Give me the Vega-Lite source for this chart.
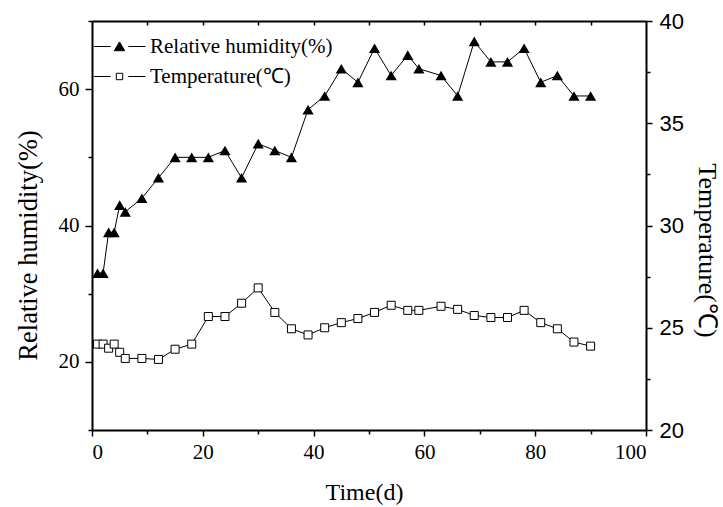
{
  "$schema": "https://vega.github.io/schema/vega-lite/v6.json",
  "width": 554,
  "height": 409,
  "autosize": {"type": "none"},
  "padding": {"left": 92, "top": 21, "right": 77, "bottom": 77},
  "background": "white",
  "data": {"values": [
    {"day": 1, "series": "Relative humidity(%)", "value": 33},
    {"day": 2, "series": "Relative humidity(%)", "value": 33},
    {"day": 3, "series": "Relative humidity(%)", "value": 39},
    {"day": 4, "series": "Relative humidity(%)", "value": 39},
    {"day": 5, "series": "Relative humidity(%)", "value": 43},
    {"day": 6, "series": "Relative humidity(%)", "value": 42},
    {"day": 9, "series": "Relative humidity(%)", "value": 44},
    {"day": 12, "series": "Relative humidity(%)", "value": 47},
    {"day": 15, "series": "Relative humidity(%)", "value": 50},
    {"day": 18, "series": "Relative humidity(%)", "value": 50},
    {"day": 21, "series": "Relative humidity(%)", "value": 50},
    {"day": 24, "series": "Relative humidity(%)", "value": 51},
    {"day": 27, "series": "Relative humidity(%)", "value": 47},
    {"day": 30, "series": "Relative humidity(%)", "value": 52},
    {"day": 33, "series": "Relative humidity(%)", "value": 51},
    {"day": 36, "series": "Relative humidity(%)", "value": 50},
    {"day": 39, "series": "Relative humidity(%)", "value": 57},
    {"day": 42, "series": "Relative humidity(%)", "value": 59},
    {"day": 45, "series": "Relative humidity(%)", "value": 63},
    {"day": 48, "series": "Relative humidity(%)", "value": 61},
    {"day": 51, "series": "Relative humidity(%)", "value": 66},
    {"day": 54, "series": "Relative humidity(%)", "value": 62},
    {"day": 57, "series": "Relative humidity(%)", "value": 65},
    {"day": 59, "series": "Relative humidity(%)", "value": 63},
    {"day": 63, "series": "Relative humidity(%)", "value": 62},
    {"day": 66, "series": "Relative humidity(%)", "value": 59},
    {"day": 69, "series": "Relative humidity(%)", "value": 67},
    {"day": 72, "series": "Relative humidity(%)", "value": 64},
    {"day": 75, "series": "Relative humidity(%)", "value": 64},
    {"day": 78, "series": "Relative humidity(%)", "value": 66},
    {"day": 81, "series": "Relative humidity(%)", "value": 61},
    {"day": 84, "series": "Relative humidity(%)", "value": 62},
    {"day": 87, "series": "Relative humidity(%)", "value": 59},
    {"day": 90, "series": "Relative humidity(%)", "value": 59},
    {"day": 1, "series": "Temperature(℃)", "value": 24.2},
    {"day": 2, "series": "Temperature(℃)", "value": 24.2},
    {"day": 3, "series": "Temperature(℃)", "value": 24.0},
    {"day": 4, "series": "Temperature(℃)", "value": 24.2},
    {"day": 5, "series": "Temperature(℃)", "value": 23.8},
    {"day": 6, "series": "Temperature(℃)", "value": 23.5},
    {"day": 9, "series": "Temperature(℃)", "value": 23.5},
    {"day": 12, "series": "Temperature(℃)", "value": 23.45},
    {"day": 15, "series": "Temperature(℃)", "value": 23.95},
    {"day": 18, "series": "Temperature(℃)", "value": 24.2},
    {"day": 21, "series": "Temperature(℃)", "value": 25.55},
    {"day": 24, "series": "Temperature(℃)", "value": 25.55},
    {"day": 27, "series": "Temperature(℃)", "value": 26.2},
    {"day": 30, "series": "Temperature(℃)", "value": 26.95},
    {"day": 33, "series": "Temperature(℃)", "value": 25.75},
    {"day": 36, "series": "Temperature(℃)", "value": 24.95},
    {"day": 39, "series": "Temperature(℃)", "value": 24.65},
    {"day": 42, "series": "Temperature(℃)", "value": 25.0},
    {"day": 45, "series": "Temperature(℃)", "value": 25.25},
    {"day": 48, "series": "Temperature(℃)", "value": 25.45},
    {"day": 51, "series": "Temperature(℃)", "value": 25.75},
    {"day": 54, "series": "Temperature(℃)", "value": 26.1},
    {"day": 57, "series": "Temperature(℃)", "value": 25.85},
    {"day": 59, "series": "Temperature(℃)", "value": 25.85},
    {"day": 63, "series": "Temperature(℃)", "value": 26.05},
    {"day": 66, "series": "Temperature(℃)", "value": 25.9},
    {"day": 69, "series": "Temperature(℃)", "value": 25.6},
    {"day": 72, "series": "Temperature(℃)", "value": 25.5},
    {"day": 75, "series": "Temperature(℃)", "value": 25.5},
    {"day": 78, "series": "Temperature(℃)", "value": 25.85},
    {"day": 81, "series": "Temperature(℃)", "value": 25.25},
    {"day": 84, "series": "Temperature(℃)", "value": 24.95},
    {"day": 87, "series": "Temperature(℃)", "value": 24.3},
    {"day": 90, "series": "Temperature(℃)", "value": 24.1}
  ]},
  "layer": [
    {
      "mark": {"type": "point", "opacity": 0, "strokeWidth": 1},
      "encoding": {
        "x": {"field": "day", "type": "quantitative", "scale": {"domain": [0, 100], "nice": false, "zero": false}, "axis": null},
        "y": {"field": "value", "type": "quantitative", "scale": {"domain": [0, 100], "nice": false, "zero": false}, "axis": null},
        "shape": {"field": "series", "type": "nominal",
          "scale": {"domain": ["Relative humidity(%)", "Temperature(℃)"],
                    "range": ["M-6.4,0H-2.2M2.2,0H6.5M0,-1.15L1.3,1.05H-1.3Z", "M-6.4,0H-2.2M2.2,0H6.5M-0.8,-0.8H0.8V0.8H-0.8Z"]},
          "legend": {"title": null, "orient": "none", "legendX": 17, "legendY": 15, "symbolSize": 64, "symbolOpacity": 1, "symbolStrokeWidth": 1, "labelFont": "Liberation Serif", "labelFontSize": 21, "labelColor": "black", "labelOffset": 20, "labelLimit": 400, "rowPadding": 8, "padding": 0}},
        "fill": {"field": "series", "type": "nominal",
          "scale": {"domain": ["Relative humidity(%)", "Temperature(℃)"], "range": ["black", "white"]},
          "legend": {"title": null, "orient": "none", "legendX": 17, "legendY": 15, "symbolSize": 64, "symbolOpacity": 1, "symbolStrokeWidth": 1, "labelFont": "Liberation Serif", "labelFontSize": 21, "labelColor": "black", "labelOffset": 20, "labelLimit": 400, "rowPadding": 8, "padding": 0}},
        "stroke": {"field": "series", "type": "nominal",
          "scale": {"domain": ["Relative humidity(%)", "Temperature(℃)"], "range": ["black", "black"]},
          "legend": {"title": null, "orient": "none", "legendX": 17, "legendY": 15, "symbolSize": 64, "symbolOpacity": 1, "symbolStrokeWidth": 1, "labelFont": "Liberation Serif", "labelFontSize": 21, "labelColor": "black", "labelOffset": 20, "labelLimit": 400, "rowPadding": 8, "padding": 0}}
      }
    },
    {
      "transform": [{"filter": {"field": "series", "equal": "Relative humidity(%)"}}],
      "mark": {"type": "line", "color": "black", "strokeWidth": 1},
      "encoding": {
        "x": {"field": "day", "type": "quantitative", "scale": {"domain": [0, 100], "nice": false, "zero": false},
          "axis": {"orient": "bottom", "values": [0, 20, 40, 60, 80, 100], "tickSize": 6, "tickWidth": 1.5, "tickColor": "black", "domainWidth": 2, "domainColor": "black", "grid": false,
                   "labelPadding": 5, "labelFont": "Liberation Serif", "labelFontSize": 21, "labelColor": "black",
                   "title": "Time(d)", "titleFont": "Liberation Serif", "titleFontSize": 24, "titleFontWeight": "normal", "titleColor": "black", "titleX": 272, "titleY": 62, "titleBaseline": "middle"}},
        "y": {"field": "value", "type": "quantitative", "scale": {"domain": [10, 70], "nice": false, "zero": false},
          "axis": {"orient": "left", "values": [20, 40, 60], "tickSize": 7, "tickWidth": 1.5, "tickColor": "black", "domainWidth": 2, "domainColor": "black", "grid": false,
                   "labelPadding": 6, "labelFont": "Liberation Serif", "labelFontSize": 21, "labelColor": "black",
                   "title": "Relative humidity(%)", "titleFont": "Liberation Serif", "titleFontSize": 26.5, "titleFontWeight": "normal", "titleColor": "black", "titleX": -64, "titleY": 224, "titleBaseline": "middle"}}
      }
    },
    {
      "transform": [{"filter": {"field": "series", "equal": "Relative humidity(%)"}}],
      "mark": {"type": "point", "shape": "triangle-up", "filled": true, "color": "black", "size": 125, "opacity": 1},
      "encoding": {
        "x": {"field": "day", "type": "quantitative", "scale": {"domain": [0, 100], "nice": false, "zero": false},
          "axis": {"orient": "bottom", "values": [10, 30, 50, 70, 90], "tickSize": 4, "tickWidth": 1.5, "tickColor": "black", "grid": false, "labels": false, "domain": false, "title": null}},
        "y": {"field": "value", "type": "quantitative", "scale": {"domain": [10, 70], "nice": false, "zero": false},
          "axis": {"orient": "left", "values": [10, 30, 50, 70], "tickSize": 4, "tickWidth": 1.5, "tickColor": "black", "grid": false, "labels": false, "domain": false, "title": null}}
      }
    },
    {
      "transform": [{"filter": {"field": "series", "equal": "Temperature(℃)"}}],
      "mark": {"type": "line", "color": "black", "strokeWidth": 1},
      "encoding": {
        "x": {"field": "day", "type": "quantitative", "scale": {"domain": [0, 100], "nice": false, "zero": false},
          "axis": {"orient": "top", "values": [10, 20, 30, 40, 50, 60, 70, 80, 90], "tickSize": -4, "tickWidth": 1.5, "tickColor": "black", "domainWidth": 2, "domainColor": "black", "grid": false, "labels": false, "title": null}},
        "y": {"field": "value", "type": "quantitative", "scale": {"domain": [20, 40], "nice": false, "zero": false},
          "axis": {"orient": "right", "values": [20, 25, 30, 35, 40], "tickSize": 6, "tickWidth": 1.5, "tickColor": "black", "domainWidth": 2, "domainColor": "black", "grid": false,
                   "labelPadding": 7, "labelFont": "Liberation Sans", "labelFontSize": 22, "labelColor": "black",
                   "title": "Temperature(℃)", "titleFont": "Liberation Serif", "titleFontSize": 26, "titleFontWeight": "normal", "titleColor": "black", "titleX": 60, "titleY": 229, "titleBaseline": "middle", "titleAngle": 90}}
      }
    },
    {
      "transform": [{"filter": {"field": "series", "equal": "Temperature(℃)"}}],
      "mark": {"type": "point", "shape": "square", "filled": true, "fill": "white", "stroke": "black", "strokeWidth": 1, "size": 64, "opacity": 1},
      "encoding": {
        "x": {"field": "day", "type": "quantitative", "scale": {"domain": [0, 100], "nice": false, "zero": false}, "axis": null},
        "y": {"field": "value", "type": "quantitative", "scale": {"domain": [20, 40], "nice": false, "zero": false},
          "axis": {"orient": "right", "values": [22.5, 27.5, 32.5, 37.5], "tickSize": 4, "tickWidth": 1.5, "tickColor": "black", "grid": false, "labels": false, "domain": false, "title": null}}
      }
    }
  ],
  "resolve": {
    "scale": {"x": "independent", "y": "independent"},
    "axis": {"x": "independent", "y": "independent"}
  },
  "config": {
    "view": {"stroke": null}
  }
}
